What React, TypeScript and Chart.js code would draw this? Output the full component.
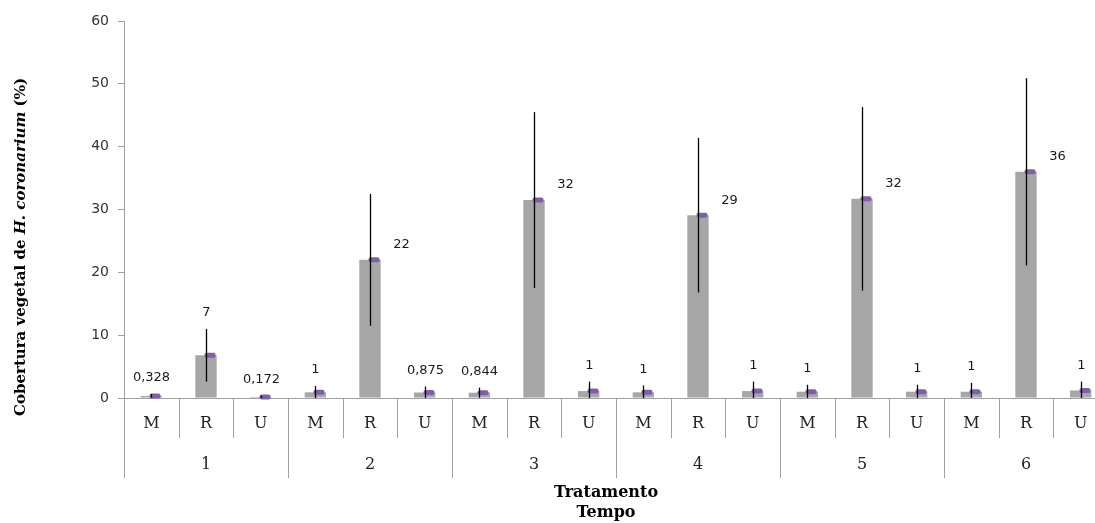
import React, { useEffect, useRef } from 'react';
import { Chart, registerables } from 'chart.js';

Chart.register(...registerables);

// ---- data ----
const tempos = ['1', '2', '3', '4', '5', '6'];
const tratamentos = ['M', 'R', 'U'];
const categoryLabels = tempos.flatMap(() => tratamentos);
const means = [0.328, 6.8, 0.172, 0.9, 22, 0.875, 0.844, 31.5, 1.1, 0.9, 29.1, 1.1, 1.0, 31.7, 1.0, 1.0, 36, 1.2];
const errors = [0.3, 4.2, 0.2, 1.0, 10.5, 0.95, 0.8, 14.0, 1.5, 1.1, 12.3, 1.5, 1.1, 14.6, 1.1, 1.4, 14.9, 1.4];
const valueLabels = ['0,328', '7', '0,172', '1', '22', '0,875', '0,844', '32', '1', '1', '29', '1', '1', '32', '1', '1', '36', '1'];
const yMin = 0;
const yMax = 60;
const yStep = 10;
const yTitlePlain = 'Cobertura vegetal de ';
const yTitleItalic = 'H. coronarium';
const yTitleEnd = ' (%)';
const xTitle1 = 'Tratamento';
const xTitle2 = 'Tempo';

const overlayPlugin = {
  id: 'overlay',
  afterDatasetsDraw(chart: any) {
    const { ctx, chartArea } = chart;
    const y = chart.scales.y;
    const meta = chart.getDatasetMeta(0);
    ctx.save();
    meta.data.forEach((bar: any, i: number) => {
      const cx = Math.round(bar.x) + 0.5;
      const top = y.getPixelForValue(means[i]);
      const hi = y.getPixelForValue(means[i] + errors[i]);
      const lo = Math.min(y.getPixelForValue(Math.max(0, means[i] - errors[i])), chartArea.bottom);
      // purple marker
      ctx.fillStyle = '#7e60a8';
      ctx.beginPath();
      if ((ctx as any).roundRect) (ctx as any).roundRect(cx - 2, top - 2.5, 11, 5, 2);
      else ctx.rect(cx - 2, top - 2.5, 11, 5);
      ctx.fill();
      // error bar
      ctx.strokeStyle = '#000';
      ctx.lineWidth = 1.3;
      ctx.beginPath();
      ctx.moveTo(cx, hi);
      ctx.lineTo(cx, lo);
      ctx.stroke();
      // value label
      ctx.fillStyle = '#1a1a1a';
      ctx.font = '13px "DejaVu Sans"';
      ctx.textBaseline = 'middle';
      ctx.textAlign = 'center';
      if (i % 3 === 1 && means[i] > 15) {
        ctx.fillText(valueLabels[i], cx + 31, top - 15);
      } else {
        ctx.fillText(valueLabels[i], cx, hi - 16);
      }
    });
    ctx.restore();
  },
  afterDraw(chart: any) {
    const { ctx, chartArea } = chart;
    const x = chart.scales.x;
    const w = x.getPixelForValue(1) - x.getPixelForValue(0);
    const base = chartArea.bottom;
    ctx.save();
    // table separators
    ctx.strokeStyle = '#a0a0a0';
    ctx.lineWidth = 1;
    for (let i = 0; i <= categoryLabels.length; i++) {
      const px = Math.round(x.getPixelForValue(0) - w / 2 + i * w) + 0.5;
      ctx.beginPath();
      ctx.moveTo(px, base);
      ctx.lineTo(px, i % 3 === 0 ? base + 80 : base + 40);
      ctx.stroke();
    }
    // row labels
    ctx.fillStyle = '#222';
    ctx.textAlign = 'center';
    ctx.textBaseline = 'middle';
    ctx.font = '16px "DejaVu Serif"';
    categoryLabels.forEach((lab, i) => {
      ctx.fillText(lab, x.getPixelForValue(i), base + 26);
    });
    tempos.forEach((t, g) => {
      ctx.fillText(t, x.getPixelForValue(g * 3 + 1), base + 67);
    });
    // x titles
    ctx.fillStyle = '#000';
    ctx.font = 'bold 16px "DejaVu Serif"';
    const cxTitle = (chartArea.left + chartArea.right) / 2 - 10;
    ctx.fillText(xTitle1, cxTitle, base + 95);
    ctx.fillText(xTitle2, cxTitle, base + 115);
    // y title (rotated, with italic part)
    ctx.translate(21, 247);
    ctx.rotate(-Math.PI / 2);
    const fPlain = 'bold 15px "DejaVu Serif"';
    const fItal = 'bold italic 15px "DejaVu Serif"';
    ctx.font = fPlain;
    const w1 = ctx.measureText(yTitlePlain).width;
    const w3 = ctx.measureText(yTitleEnd).width;
    ctx.font = fItal;
    const w2 = ctx.measureText(yTitleItalic).width;
    const total = w1 + w2 + w3;
    let sx = -total / 2;
    ctx.textAlign = 'left';
    ctx.font = fPlain;
    ctx.fillText(yTitlePlain, sx, 0);
    sx += w1;
    ctx.font = fItal;
    ctx.fillText(yTitleItalic, sx, 0);
    sx += w2;
    ctx.font = fPlain;
    ctx.fillText(yTitleEnd, sx, 0);
    ctx.restore();
  },
};

export default function App() {
  const canvasRef = useRef<HTMLCanvasElement>(null);
  useEffect(() => {
    const chart = new Chart(canvasRef.current as HTMLCanvasElement, {
      type: 'bar',
      data: {
        labels: categoryLabels,
        datasets: [
          {
            data: means,
            backgroundColor: '#a6a6a6',
            borderWidth: 0,
            barPercentage: 0.39,
            categoryPercentage: 1,
          },
        ],
      },
      options: {
        responsive: false,
        animation: false,
        layout: { padding: { top: 21, right: 4, left: 0, bottom: 0 } },
        plugins: { legend: { display: false }, tooltip: { enabled: false } },
        scales: {
          x: {
            type: 'category',
            ticks: { display: false },
            grid: { display: false },
            border: { display: true, color: '#a0a0a0' },
            afterFit: (s: any) => {
              s.height = 125;
            },
          },
          y: {
            min: yMin,
            max: yMax,
            ticks: {
              stepSize: yStep,
              color: '#333',
              font: { family: '"DejaVu Sans"', size: 14 },
              padding: 9,
            },
            grid: { drawOnChartArea: false, drawTicks: true, tickLength: 6, color: '#a0a0a0' },
            border: { display: true, color: '#a0a0a0' },
            afterFit: (s: any) => {
              s.width = 124;
            },
          },
        },
      },
      plugins: [overlayPlugin],
    });
    return () => chart.destroy();
  }, []);
  return (
    <div style={{ position: 'absolute', left: 0, top: 0, width: 1095, height: 523, overflow: 'hidden', background: '#fff' }}>
      <canvas ref={canvasRef} width={1112} height={523} style={{ display: 'block' }} />
    </div>
  );
}
